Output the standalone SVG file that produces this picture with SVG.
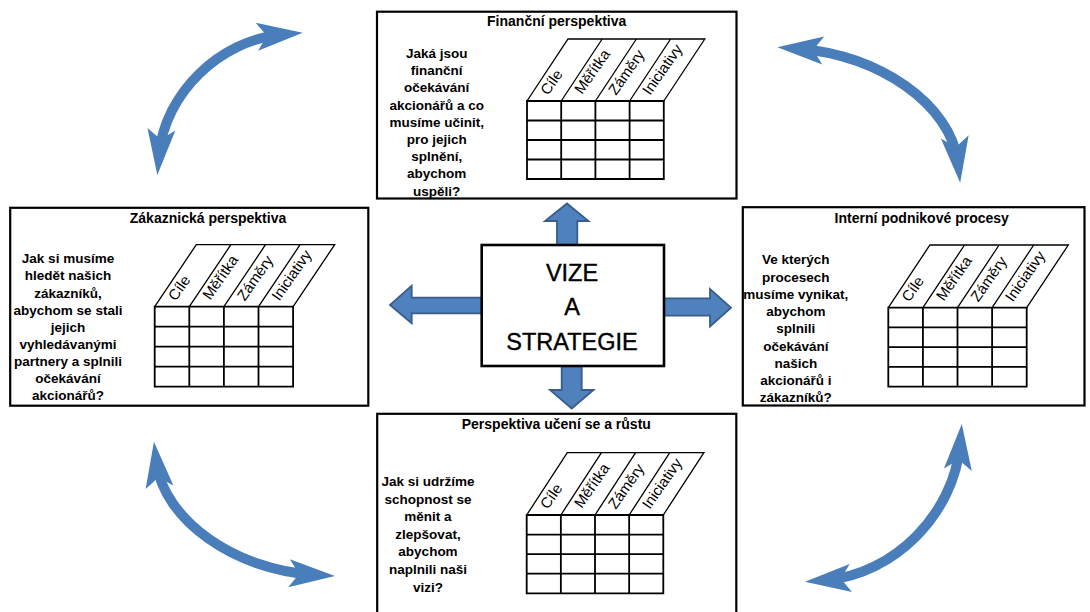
<svg xmlns="http://www.w3.org/2000/svg" width="1090" height="612" viewBox="0 0 1090 612">
<defs>
<style>
.box{fill:#fff;stroke:#000;stroke-width:2.2}
.cbox{fill:#fff;stroke:#000;stroke-width:2.6}
.ttl{font-family:"Liberation Sans",Arial,sans-serif;font-weight:bold;font-size:14px;text-anchor:middle;fill:#000}
.q{font-family:"Liberation Sans",Arial,sans-serif;font-weight:bold;font-size:13.5px;text-anchor:middle;fill:#000}
.hd{font-family:"Liberation Sans",Arial,sans-serif;font-size:15px;fill:#000}
.hl{fill:none;stroke:#000;stroke-width:1.3}
.gl{fill:none;stroke:#000;stroke-width:1.8}
.vz{font-family:"Liberation Sans",Arial,sans-serif;font-size:23.5px;text-anchor:middle;fill:#000;stroke:#000;stroke-width:0.4}
.curve{fill:none;stroke:#4A7EBB;stroke-width:10;marker-start:url(#ah);marker-end:url(#ah)}
.blk{fill:#4F81BD;stroke:#385D8A;stroke-width:1.8;stroke-linejoin:miter}
</style>
<marker id="ah" markerUnits="userSpaceOnUse" orient="auto-start-reverse" refX="0" refY="0" markerWidth="90" markerHeight="60" viewBox="-45 -30 90 60" overflow="visible">
<path d="M21,0 L-25,-14 L-15,0 L-25,14 Z" fill="#4A7EBB"/>
</marker>
</defs>
<rect width="1090" height="612" fill="#fff"/>

<g id="connectors">
<path class="curve" d="M159.2,154.1 C164.6,93.8 219.8,40 281.8,34.5"/>
<path class="curve" d="M798.3,48.7 C879.3,54.4 951,105.3 957.7,161.8"/>
<path class="curve" d="M156.5,462.5 C163.5,519.5 234.3,570 314,574.8"/>
<path class="curve" d="M960,444.9 C954.1,513.7 894,574.5 825.9,580.1"/>
<polygon class="blk" points="557,246 557,221 545,221 567,203.5 588.5,221 577.3,221 577.3,246"/>
<polygon class="blk" points="561.7,365 561.7,390 550,390 571.7,408.5 593.5,390 581.7,390 581.7,365"/>
<polygon class="blk" points="482,297.7 411.7,297.7 411.7,285.7 390,305 411.7,323.3 411.7,313.3 482,313.3"/>
<polygon class="blk" points="663,298.3 710,298.3 710,289 731,307.7 710,326.5 710,315.7 663,315.7"/>
</g>

<g id="vize">
<rect class="cbox" x="481.7" y="245" width="182.3" height="121"/>
<text class="vz" x="572" y="280.5">VIZE</text>
<text class="vz" x="572" y="315">A</text>
<text class="vz" x="572" y="350">STRATEGIE</text>
</g>

<g id="financni">
<rect class="box" x="377" y="11.7" width="359.5" height="186.8"/>
<text class="ttl" x="556.7" y="26.3">Finanční perspektiva</text>
<text class="q" x="436.7" y="58">Jaká jsou</text>
<text class="q" x="436.7" y="75.2">finanční</text>
<text class="q" x="436.7" y="92.4">očekávání</text>
<text class="q" x="436.7" y="109.6">akcionářů a co</text>
<text class="q" x="436.7" y="126.8">musíme učinit,</text>
<text class="q" x="436.7" y="144">pro jejich</text>
<text class="q" x="436.7" y="161.2">splnění,</text>
<text class="q" x="436.7" y="178.4">abychom</text>
<text class="q" x="436.7" y="195.6">uspěli?</text>
<g transform="translate(527,101)">
<path class="hl" d="M0,0 L41,-62 L177.8,-62 L136.8,0 M34.2,0 L75.2,-62 M68.4,0 L109.4,-62 M102.6,0 L143.6,-62"/>
<path class="gl" d="M0,0 H136.8 V78 H0 Z M0,19.5 H136.8 M0,39 H136.8 M0,58.5 H136.8 M34.2,0 V78 M68.4,0 V78 M102.6,0 V78"/>
<text class="hd" transform="translate(21,-5) rotate(-55)">Cíle</text>
<text class="hd" transform="translate(55,-6) rotate(-55)">Měřítka</text>
<text class="hd" transform="translate(89,-5) rotate(-55)">Záměry</text>
<text class="hd" transform="translate(123,-5) rotate(-55)">Iniciativy</text>
</g>
</g>

<g id="zakaznicka">
<rect class="box" x="10.2" y="207.8" width="358.1" height="197.9"/>
<text class="ttl" x="208" y="223.3">Zákaznická perspektiva</text>
<text class="q" x="68" y="263.3">Jak si musíme</text>
<text class="q" x="68" y="280.4">hledět našich</text>
<text class="q" x="68" y="297.5">zákazníků,</text>
<text class="q" x="68" y="314.6">abychom se stali</text>
<text class="q" x="68" y="331.7">jejich</text>
<text class="q" x="68" y="348.8">vyhledávanými</text>
<text class="q" x="68" y="365.9">partnery a splnili</text>
<text class="q" x="68" y="383">očekávání</text>
<text class="q" x="68" y="400.1">akcionářů?</text>
<g transform="translate(154.7,306.7)">
<path class="hl" d="M0,0 L41.6,-62 L180,-62 L138.4,0 M34.6,0 L76.2,-62 M69.2,0 L110.8,-62 M103.8,0 L145.4,-62"/>
<path class="gl" d="M0,0 H138.4 V80 H0 Z M0,20 H138.4 M0,40 H138.4 M0,60 H138.4 M34.6,0 V80 M69.2,0 V80 M103.8,0 V80"/>
<text class="hd" transform="translate(21,-5) rotate(-55)">Cíle</text>
<text class="hd" transform="translate(55.5,-6) rotate(-55)">Měřítka</text>
<text class="hd" transform="translate(90,-5) rotate(-55)">Záměry</text>
<text class="hd" transform="translate(124.5,-5) rotate(-55)">Iniciativy</text>
</g>
</g>

<g id="interni">
<rect class="box" x="742.8" y="207.2" width="341.7" height="198.3"/>
<text class="ttl" x="921.7" y="223.3">Interní podnikové procesy</text>
<text class="q" x="795.8" y="264.3">Ve kterých</text>
<text class="q" x="795.8" y="281.5">procesech</text>
<text class="q" x="795.8" y="298.8">musíme vynikat,</text>
<text class="q" x="795.8" y="316">abychom</text>
<text class="q" x="795.8" y="333.3">splnili</text>
<text class="q" x="795.8" y="350.5">očekávání</text>
<text class="q" x="795.8" y="367.8">našich</text>
<text class="q" x="795.8" y="385">akcionářů i</text>
<text class="q" x="795.8" y="402.3">zákazníků?</text>
<g transform="translate(888.3,307.7)">
<path class="hl" d="M0,0 L41.6,-62.7 L180,-62.7 L138.4,0 M34.6,0 L76.2,-62.7 M69.2,0 L110.8,-62.7 M103.8,0 L145.4,-62.7"/>
<path class="gl" d="M0,0 H138.4 V79 H0 Z M0,19.75 H138.4 M0,39.5 H138.4 M0,59.25 H138.4 M34.6,0 V79 M69.2,0 V79 M103.8,0 V79"/>
<text class="hd" transform="translate(21,-5) rotate(-55)">Cíle</text>
<text class="hd" transform="translate(55.5,-6) rotate(-55)">Měřítka</text>
<text class="hd" transform="translate(90,-5) rotate(-55)">Záměry</text>
<text class="hd" transform="translate(124.5,-5) rotate(-55)">Iniciativy</text>
</g>
</g>

<g id="uceni">
<rect class="box" x="377.2" y="413.8" width="359.1" height="210"/>
<text class="ttl" x="556.3" y="429">Perspektiva učení se a růstu</text>
<text class="q" x="428" y="486">Jak si udržíme</text>
<text class="q" x="428" y="503.6">schopnost se</text>
<text class="q" x="428" y="521.2">měnit a</text>
<text class="q" x="428" y="538.8">zlepšovat,</text>
<text class="q" x="428" y="556.4">abychom</text>
<text class="q" x="428" y="574">naplnili naši</text>
<text class="q" x="428" y="591.6">vizi?</text>
<g transform="translate(526.7,515)">
<path class="hl" d="M0,0 L40.6,-62.3 L177.2,-62.3 L136.6,0 M34.15,0 L74.75,-62.3 M68.3,0 L108.9,-62.3 M102.45,0 L143.05,-62.3"/>
<path class="gl" d="M0,0 H136.6 V78.3 H0 Z M0,19.6 H136.6 M0,39.2 H136.6 M0,58.7 H136.6 M34.15,0 V78.3 M68.3,0 V78.3 M102.45,0 V78.3"/>
<text class="hd" transform="translate(21,-5) rotate(-55)">Cíle</text>
<text class="hd" transform="translate(55,-6) rotate(-55)">Měřítka</text>
<text class="hd" transform="translate(89,-5) rotate(-55)">Záměry</text>
<text class="hd" transform="translate(123,-5) rotate(-55)">Iniciativy</text>
</g>
</g>
</svg>
